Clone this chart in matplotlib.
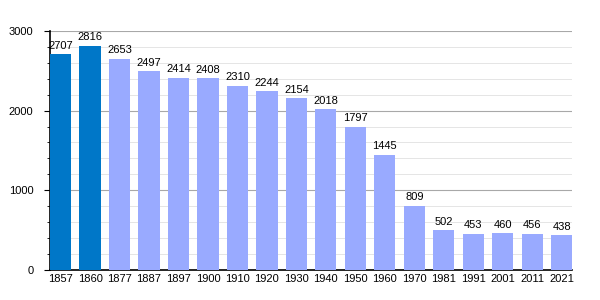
import matplotlib.pyplot as plt
from matplotlib.ticker import MultipleLocator

plt.rcParams['font.family'] = ['Liberation Sans', 'DejaVu Sans']

years = ['1857', '1860', '1877', '1887', '1897', '1900', '1910', '1920', '1930',
         '1940', '1950', '1960', '1970', '1981', '1991', '2001', '2011', '2021']
population = [2707, 2816, 2653, 2497, 2414, 2408, 2310, 2244, 2154,
              2018, 1797, 1445, 809, 502, 453, 460, 456, 438]

# first two censuses drawn darker
colors = ['#0077c8' if i < 2 else '#99aaff' for i in range(len(years))]

fig = plt.figure(figsize=(6, 3), dpi=100)
ax = fig.add_axes([0.0833, 0.1, 0.8705, 0.797])

bar_w = 0.72
x = range(len(years))
ax.bar(x, population, width=bar_w, color=colors, zorder=3)

for xi, v in zip(x, population):
    ax.annotate(str(v), (xi, v), xytext=(0, 2.5), textcoords='offset points',
                ha='center', va='bottom', fontsize=8, zorder=4)

ax.set_xlim(-bar_w / 2, len(years) - 1 + bar_w / 2)
ax.set_ylim(0, 3000)
ax.set_xticks(list(x))
ax.set_xticklabels(years)
ax.yaxis.set_major_locator(MultipleLocator(1000))
ax.yaxis.set_minor_locator(MultipleLocator(200))

ax.grid(axis='y', which='major', color='#a8a8a8', linewidth=0.8, zorder=0)
ax.grid(axis='y', which='minor', color='#e0e0e0', linewidth=0.6, zorder=0)

ax.tick_params(axis='x', length=0, labelsize=8, pad=3)
ax.tick_params(axis='y', which='major', length=4, labelsize=8, direction='out', pad=8)
ax.tick_params(axis='y', which='minor', length=2.5, direction='out')

for side in ['top', 'right']:
    ax.spines[side].set_visible(False)
ax.spines['left'].set_linewidth(1.2)
ax.spines['bottom'].set_linewidth(1.2)

fig.savefig('out.png', dpi=100)
